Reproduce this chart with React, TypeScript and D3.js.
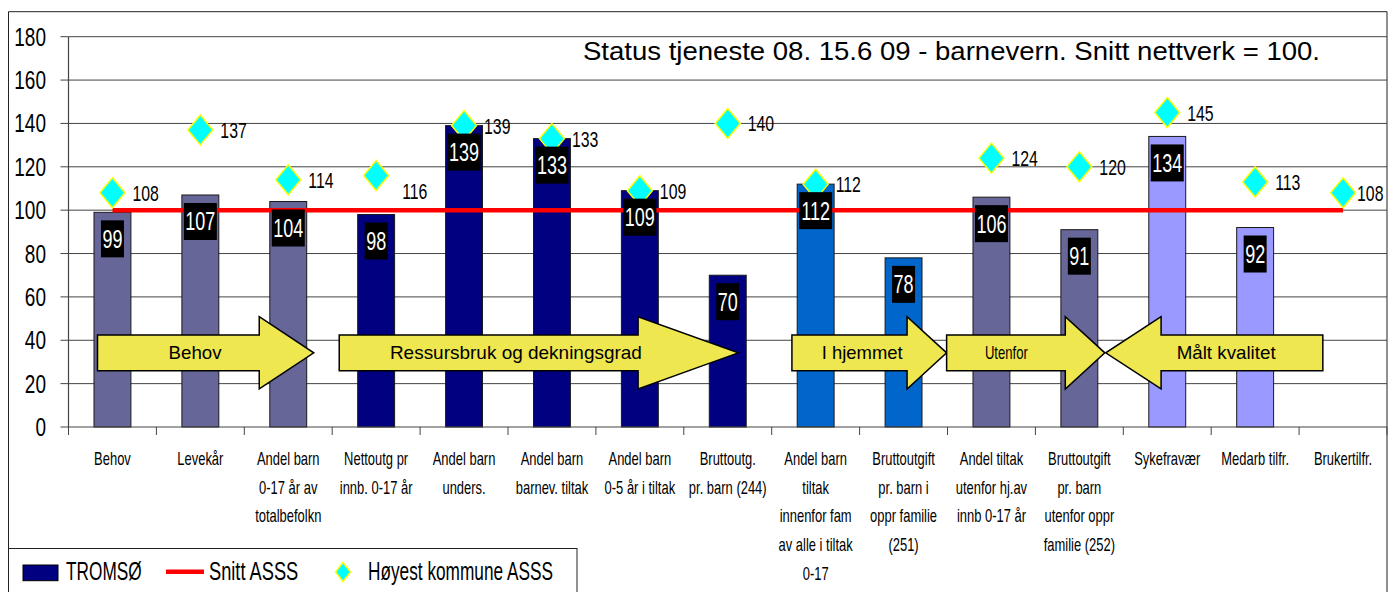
import React from 'react';
import * as d3 from 'd3';

// ---------- data ----------
const categories = [
  'Behov',
  'Levekår',
  'Andel barn\n0-17 år av\ntotalbefolkn',
  'Nettoutg pr\ninnb. 0-17 år',
  'Andel barn\nunders.',
  'Andel barn\nbarnev. tiltak',
  'Andel barn\n0-5 år i tiltak',
  'Bruttoutg.\npr. barn (244)',
  'Andel barn\ntiltak\ninnenfor fam\nav alle i tiltak\n0-17',
  'Bruttoutgift\npr. barn i\noppr familie\n(251)',
  'Andel tiltak\nutenfor hj.av\ninnb 0-17 år',
  'Bruttoutgift\npr. barn\nutenfor oppr\nfamilie (252)',
  'Sykefravær',
  'Medarb tilfr.',
  'Brukertilfr.',
];
const tromso: (number | null)[] = [99, 107, 104, 98, 139, 133, 109, 70, 112, 78, 106, 91, 134, 92, null];
const snittASSS = [100, 100, 100, 100, 100, 100, 100, 100, 100, 100, 100, 100, 100, 100, 100];
const hoyestASSS: (number | null)[] = [108, 137, 114, 116, 139, 133, 109, 140, 112, null, 124, 120, 145, 113, 108];
const yTicks = [0, 20, 40, 60, 80, 100, 120, 140, 160, 180];
const barGroup = [0, 0, 0, 1, 1, 1, 1, 1, 2, 2, 0, 0, 3, 3, 3];
const sectionLabels = ['Behov', 'Ressursbruk og dekningsgrad', 'I hjemmet', 'Utenfor', 'Målt kvalitet'];
const legendLabels = ['TROMSØ', 'Snitt ASSS', 'Høyest kommune ASSS'];
const title = 'Status tjeneste 08. 15.6 09 - barnevern. Snitt nettverk = 100.';

// ---------- styling / layout ----------
const groupColors = ['#666699', '#000080', '#0066CC', '#9999FF'];
const FONT = "'Liberation Sans', Arial, Helvetica, sans-serif";
const W = 1397;
const H = 592;
const plotLeft = 68.5;
const plotRight = 1387;
const yTop = 36.7;
const yBottom = 427;

// arrow annotation layout in category-index units (0 = left edge of first band)
const arrowLayout = [
  { start: 0.33, base: 2.17, tip: 2.79, textAt: 1.44, textW: 53 },
  { start: 3.08, base: 6.48, tip: 7.62, textAt: 5.09, textW: 252 },
  { start: 8.23, base: 9.54, tip: 9.99, textAt: 9.03, textW: 81 },
  { start: 9.99, base: 11.34, tip: 11.79, textAt: 10.67, textW: 43 },
  { start: 14.27, base: 12.43, tip: 11.8, textAt: 13.17, textW: 99 },
];
const arrowCenter = 34.2;
const arrowBodyHalf = 8.25;
const arrowHeadHalf = 16.65;

const labelNudge: Record<number, [number, number]> = { 3: [26, 16], 14: [14, 0] };

function NText({ x, y, scale = 0.72, children, ...rest }: any) {
  return (
    <text transform={`translate(${x},${y}) scale(${scale},1)`} {...rest}>
      {children}
    </text>
  );
}

export default function App() {
  const x = d3.scaleBand<string>().domain(categories).range([plotLeft, plotRight]).padding(0);
  const xi = d3.scaleLinear().domain([0, categories.length]).range([plotLeft, plotRight]);
  const y = d3.scaleLinear().domain([0, 180]).range([yBottom, yTop]);
  const bw = x.bandwidth();
  const barW = bw * 0.42;
  const cx = (i: number) => (x(categories[i]) as number) + bw / 2;

  const lineGen = d3
    .line<number>()
    .x((_, i) => cx(i))
    .y((d) => y(d));

  const diamond = (px: number, py: number, hw: number, hh: number) =>
    `M${px},${py - hh}L${px + hw},${py}L${px},${py + hh}L${px - hw},${py}Z`;

  return (
    <svg
      width={W}
      height={H}
      style={{ position: 'absolute', left: 0, top: 0, background: '#fff' }}
      fontFamily={FONT}
    >
      <rect x={0} y={0} width={W} height={H} fill="#fff" />
      {/* outer frame */}
      <path d={`M8.5,${H + 5}V11.7H${plotRight}V${H + 5}`} fill="none" stroke="#222" strokeWidth={1} />

      {/* gridlines + y ticks */}
      {yTicks.map((t) => (
        <g key={t}>
          {t > 0 && <line x1={plotLeft} x2={plotRight} y1={y(t)} y2={y(t)} stroke="#444" strokeWidth={1} />}
          <line x1={60.5} x2={plotLeft} y1={y(t)} y2={y(t)} stroke="#444" strokeWidth={1} />
          <NText x={46} y={y(t) + 9} scale={0.76} fontSize={25} textAnchor="end" fill="#000">
            {t}
          </NText>
        </g>
      ))}

      {/* title */}
      <text x={583} y={60} fontSize={25} textLength={737} lengthAdjust="spacingAndGlyphs" fill="#000">
        {title}
      </text>

      {/* bars */}
      {tromso.map((v, i) =>
        v == null ? null : (
          <rect
            key={i}
            x={cx(i) - barW / 2}
            y={y(v)}
            width={barW}
            height={y(0) - y(v)}
            fill={groupColors[barGroup[i]]}
            stroke="#1a1a1a"
            strokeWidth={1}
          />
        )
      )}

      {/* axes */}
      <line x1={plotLeft} x2={plotLeft} y1={yTop} y2={yBottom} stroke="#444" strokeWidth={1.2} />
      <line x1={plotLeft} x2={plotRight} y1={yBottom} y2={yBottom} stroke="#444" strokeWidth={1.2} />
      {d3.range(categories.length + 1).map((k) => (
        <line key={k} x1={xi(k)} x2={xi(k)} y1={yBottom} y2={yBottom + 8} stroke="#444" strokeWidth={1} />
      ))}

      {/* x labels */}
      {categories.map((c, i) =>
        c.split('\n').map((ln, j) => (
          <NText key={i + '-' + j} x={cx(i)} y={465 + j * 28.7} fontSize={18} textAnchor="middle" fill="#000">
            {ln}
          </NText>
        ))
      )}

      {/* snitt line */}
      <path d={lineGen(snittASSS) as string} fill="none" stroke="#FF0000" strokeWidth={4.5} />

      {/* diamonds */}
      {hoyestASSS.map((v, i) =>
        v == null ? null : (
          <path key={i} d={diamond(cx(i), y(v), 12.5, 15)} fill="#00FFFF" stroke="#FFFF00" strokeWidth={1.5} />
        )
      )}

      {/* bar value labels */}
      {tromso.map((v, i) => {
        if (v == null) return null;
        const s = String(v);
        const w = s.length * 10 + 3;
        const top = y(v) + 8;
        return (
          <g key={i}>
            <rect x={cx(i) - w / 2} y={top} width={w} height={37} fill="#000" />
            <NText x={cx(i)} y={top + 27.5} fontSize={25} textAnchor="middle" fill="#fff">
              {s}
            </NText>
          </g>
        );
      })}

      {/* diamond labels */}
      {hoyestASSS.map((v, i) => {
        if (v == null) return null;
        const [dx, dy] = labelNudge[i] || [20, 0];
        return (
          <NText key={i} x={cx(i) + dx} y={y(v) + 8 + dy} fontSize={22} fill="#000">
            {v}
          </NText>
        );
      })}

      {/* arrows */}
      {arrowLayout.map((a, k) => {
        const s = xi(a.start);
        const b = xi(a.base);
        const t = xi(a.tip);
        const bt = y(arrowCenter + arrowBodyHalf);
        const bb = y(arrowCenter - arrowBodyHalf);
        const ht = y(arrowCenter + arrowHeadHalf);
        const hb = y(arrowCenter - arrowHeadHalf);
        const c = y(arrowCenter);
        const d = `M${s},${bt}L${b},${bt}L${b},${ht}L${t},${c}L${b},${hb}L${b},${bb}L${s},${bb}Z`;
        return (
          <g key={k}>
            <path d={d} fill="#EFE74F" stroke="#000" strokeWidth={1.5} strokeLinejoin="miter" />
            <text
              x={xi(a.textAt) - a.textW / 2}
              y={c + 6.5}
              fontSize={18.5}
              textLength={a.textW}
              lengthAdjust="spacingAndGlyphs"
              fill="#000"
            >
              {sectionLabels[k]}
            </text>
          </g>
        );
      })}

      {/* legend */}
      <rect x={8.5} y={548.5} width={568.5} height={60} fill="#fff" stroke="#222" strokeWidth={1} />
      <rect x={23} y={565} width={35} height={15.7} fill="#000080" stroke="#000" strokeWidth={1} />
      <NText x={66} y={580} scale={0.69} fontSize={25} fill="#000">
        {legendLabels[0]}
      </NText>
      <line x1={166} x2={204} y1={571.7} y2={571.7} stroke="#FF0000" strokeWidth={4.5} />
      <NText x={209} y={580} scale={0.73} fontSize={25} fill="#000">
        {legendLabels[1]}
      </NText>
      <path d={diamond(343, 572, 7.5, 9.5)} fill="#00FFFF" stroke="#FFFF00" strokeWidth={1.5} />
      <NText x={368} y={580} scale={0.69} fontSize={25} fill="#000">
        {legendLabels[2]}
      </NText>
    </svg>
  );
}
